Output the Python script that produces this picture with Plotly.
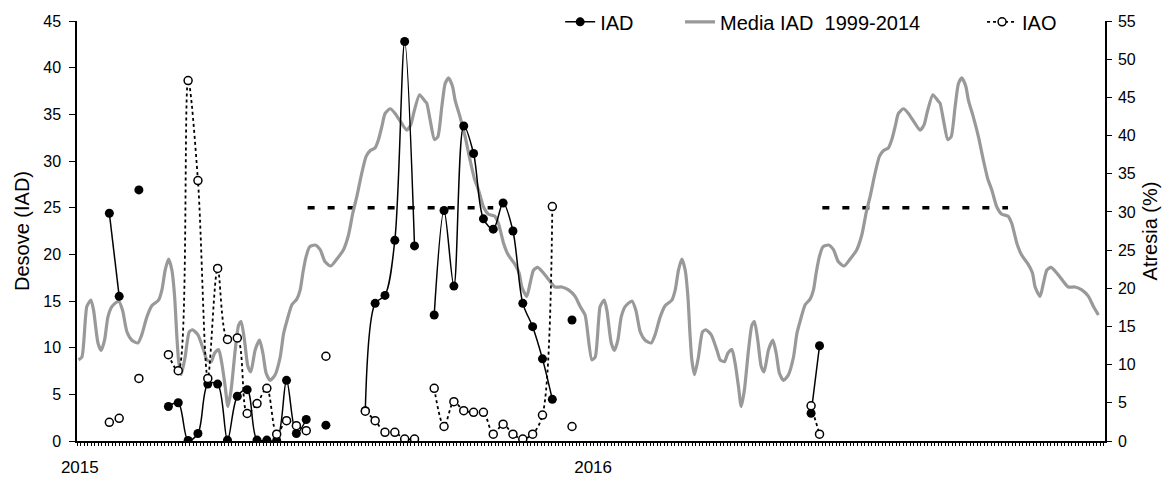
import pandas as pd
import plotly.graph_objects as go

# ---------------- DATA ----------------
# Weekly sampling dates (None values mark weeks without sampling -> gaps)
fechas = ["2015-01-24", "2015-01-31", "2015-02-07", "2015-02-14", "2015-02-28",
          "2015-03-07", "2015-03-14", "2015-03-21", "2015-03-28", "2015-04-04",
          "2015-04-11", "2015-04-18", "2015-04-25", "2015-05-02", "2015-05-09",
          "2015-05-16", "2015-05-23", "2015-05-30", "2015-06-06", "2015-06-13",
          "2015-06-20", "2015-06-27", "2015-07-04", "2015-07-25", "2015-08-01",
          "2015-08-08", "2015-08-15", "2015-08-22", "2015-08-29", "2015-09-05",
          "2015-09-12", "2015-09-19", "2015-09-26", "2015-10-03", "2015-10-10",
          "2015-10-17", "2015-10-24", "2015-10-31", "2015-11-07", "2015-11-14",
          "2015-11-21", "2015-11-28", "2015-12-05", "2015-12-12", "2015-12-19",
          "2016-01-02", "2016-06-06", "2016-06-12"]

# Desove (IAD) - left axis
iad = [24.4, 15.5, None, 26.9, None,
       3.7, 4.1, 0.05, 0.8, 6.1,
       6.1, 0.1, 4.8, 5.5, 0.1,
       0.1, 0.05, 6.5, 0.8, 2.3,
       None, 1.7, None, 3.25, 14.75,
       15.6, 21.5, 42.8, 20.9, None,
       13.5, 24.7, 16.6, 33.75, 30.8,
       23.8, 22.7, 25.5, 22.5, 14.75,
       12.25, 8.8, 4.46, None, 12.96,
       None, 2.97, 10.2]

# Atresia (IAO, %) - right axis
iao = [2.45, 2.97, None, 8.2, None,
       11.3, 9.2, 47.2, 34.1, 8.2,
       22.6, 13.3, 13.5, 3.6, 4.9,
       6.9, 0.9, 2.66, 2.0, 1.35,
       None, 11.1, None, 3.9, 2.66,
       1.14, 1.14, 0.26, 0.26, None,
       6.9, 1.9, 5.15, 3.97, 3.75,
       3.75, 0.9, 2.2, 0.9, 0.26,
       0.9, 3.4, 30.7, None, 1.9,
       None, 4.6, 0.9]

# Media IAD 1999-2014 (climatology): days after 1 January and values
media_dia = [1.1, 3.5, 7.0, 9.9, 11.8, 14.9, 17.2, 19.6, 22.0, 24.8,
             29.6, 32.4, 35.5, 39.0, 43.3, 46.1, 49.7, 53.2, 58.0, 60.4,
             62.7, 65.1, 67.5, 69.4, 71.0, 72.2, 74.1, 76.9, 79.8, 82.2,
             85.9, 90.0, 92.3, 95.4, 97.8, 100.7, 103.0, 105.4, 107.3, 109.6,
             112.5, 114.9, 116.7, 119.1, 121.5, 123.6, 126.7, 129.8, 132.2, 134.5,
             137.4, 140.9, 144.5, 146.9, 149.7, 152.8, 156.3, 158.7, 160.6, 162.9,
             165.4, 169.3, 172.9, 176.4, 180.5, 184.8, 189.5, 193.1, 196.1, 199.0,
             202.5, 205.6, 208.4, 212.0, 214.4, 216.8, 219.1, 222.7, 226.2, 231.0,
             234.5, 237.4, 239.7, 243.6, 247.5, 248.7, 251.1, 254.2, 256.6, 259.4,
             261.8, 264.2, 267.0, 268.9, 272.4, 276.0, 279.5, 282.6, 285.5, 289.0,
             292.6, 296.9, 299.7, 303.3, 306.8, 311.1, 314.4, 316.3, 319.8, 322.2,
             324.6, 327.6, 331.7, 336.4, 339.9, 344.7, 349.5, 354.2, 357.8, 361.3]
media_iad = [8.7, 9.0, 14.4, 15.1, 14.0, 10.5, 9.7, 10.8, 13.3, 14.4,
             15.0, 14.0, 11.7, 10.8, 10.5, 11.4, 13.3, 14.5, 15.1, 16.2,
             18.3, 19.5, 18.3, 15.5, 11.2, 8.7, 7.1, 9.0, 11.7, 11.9,
             11.4, 9.75, 8.7, 8.5, 9.4, 9.8, 8.3, 5.8, 3.7, 5.5,
             9.75, 12.4, 12.8, 10.8, 8.0, 7.4, 9.75, 10.8, 9.4, 7.25,
             6.5, 7.1, 9.0, 11.5, 13.1, 14.6, 15.2, 16.2, 18.0, 19.75,
             20.8, 21.0, 20.5, 19.2, 18.75, 19.5, 20.5, 22.1, 24.4, 26.2,
             28.7, 30.5, 31.1, 31.4, 32.3, 33.7, 35.1, 35.6, 35.1, 34.0,
             33.3, 33.9, 35.3, 37.1, 36.4, 36.2, 34.4, 32.3, 32.6, 35.8,
             38.3, 38.9, 38.0, 36.5, 34.7, 32.6, 30.1, 28.1, 26.9, 25.1,
             24.3, 24.1, 23.3, 21.2, 19.9, 19.0, 18.0, 16.5, 15.5, 16.9,
             18.3, 18.6, 18.0, 17.1, 16.5, 16.5, 16.2, 15.5, 14.4, 13.5]
media_anios = [2015, 2016]

# Spawning season reference (IAD = 25)
umbral_iad = 25
temporada_inicio = ["2015-06-14", "2016-06-14"]
temporada_fin = ["2015-10-24", "2016-10-24"]

# Axis labels
posiciones_anio = ["2015-01-03", "2016-01-03"]
etiquetas_anio = ["2015", "2016"]

# ---------------- BUILD ----------------
media_x, media_y = [], []
for a in media_anios:
    base = pd.Timestamp(f"{a}-01-01")
    for d, v in zip(media_dia, media_iad):
        media_x.append(base + pd.Timedelta(days=d))
        media_y.append(v)

umbral_x, umbral_y = [], []
for ini, fin in zip(temporada_inicio, temporada_fin):
    umbral_x += [ini, fin, None]
    umbral_y += [umbral_iad, umbral_iad, None]

FONT = "Arial, 'Liberation Sans', sans-serif"

fig = go.Figure()

fig.add_trace(go.Scatter(
    x=umbral_x, y=umbral_y, mode="lines", showlegend=False,
    line=dict(color="black", width=3.5, dash="7px,13px"), hoverinfo="skip"))

fig.add_trace(go.Scatter(
    x=media_x, y=media_y, mode="lines", name="Media IAD  1999-2014",
    line=dict(color="#999999", width=3.2, shape="spline", smoothing=0.6),
    legend="legend2"))

fig.add_trace(go.Scatter(
    x=fechas, y=iad, mode="lines+markers", name="IAD", connectgaps=False,
    line=dict(color="black", width=1.5, shape="spline", smoothing=0.9),
    marker=dict(symbol="circle", size=9, color="black"),
    legend="legend"))

fig.add_trace(go.Scatter(
    x=fechas, y=iao, mode="lines+markers", name="IAO", connectgaps=False,
    yaxis="y2",
    line=dict(color="black", width=1.8, dash="3px,3px", shape="spline", smoothing=0.9),
    marker=dict(symbol="circle", size=8, color="white", line=dict(color="black", width=1.5)),
    legend="legend3"))

leg_common = dict(orientation="h", xanchor="left", yanchor="middle", y=0.998,
                  bgcolor="rgba(0,0,0,0)", borderwidth=0,
                  font=dict(family=FONT, size=20, color="black"))

fig.update_layout(
    width=1169, height=479,
    margin=dict(l=77, r=64, t=21, b=38, autoexpand=False),
    paper_bgcolor="white", plot_bgcolor="white",
    font=dict(family=FONT, size=16, color="black"),
    legend=dict(x=0.470, **leg_common),
    legend2=dict(x=0.5866, **leg_common),
    legend3=dict(x=0.8804, **leg_common),
    xaxis=dict(
        type="date", range=["2015-01-01", "2017-01-01"], automargin=False,
        showgrid=False, zeroline=False,
        showline=True, linecolor="black", linewidth=1.5,
        tickmode="array", tickvals=posiciones_anio, ticktext=etiquetas_anio,
        ticks="", tickfont=dict(size=17), ticklabelstandoff=10,
        minor=dict(ticks="outside", ticklen=3, tickwidth=1, tickcolor="black",
                   dtick=2.5 * 86400000, tick0="2015-01-01", showgrid=False),
    ),
    yaxis=dict(
        range=[0, 45], dtick=5, showgrid=False, zeroline=False, automargin=False,
        showline=True, linecolor="black", linewidth=1.5,
        ticks="outside", ticklen=6, tickwidth=1.2, tickcolor="black",
        tickfont=dict(size=16), ticklabelstandoff=5,
        title=dict(text="Desove (IAD)", font=dict(size=20), standoff=8),
    ),
    yaxis2=dict(
        range=[0, 55], dtick=5, overlaying="y", side="right", automargin=False,
        showgrid=False, zeroline=False,
        showline=True, linecolor="black", linewidth=1.5,
        ticks="outside", ticklen=5, tickwidth=1.2, tickcolor="black",
        tickfont=dict(size=16), ticklabelstandoff=3,
        title=dict(text="Atresia (%)", font=dict(size=20), standoff=8),
    ),
)

fig.write_html("out.html", config={"displayModeBar": False},
               post_script="document.body.style.margin='0';")
